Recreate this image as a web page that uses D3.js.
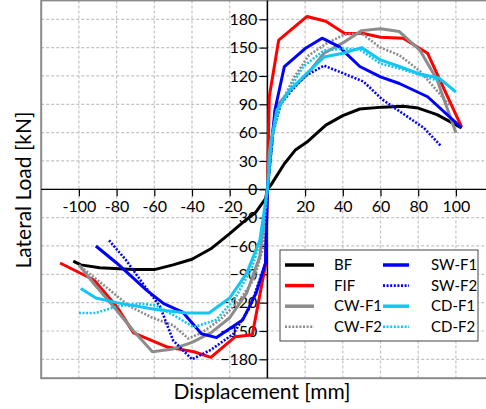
<!DOCTYPE html>
<html>
<head>
<meta charset="utf-8">
<script src="https://cdn.jsdelivr.net/npm/d3@7"></script>
<style>
  body { margin: 0; background: #fff; }
  svg { font-family: Lato, "Liberation Sans", sans-serif; }
</style>
</head>
<body>
<div id="chart"></div>
<script>
// displacement [mm] / lateral load [kN]
const bf = [[-103,-76],[-99,-80],[-89,-83],[-71,-85],[-60,-85],[-50,-80],[-40,-74],[-30,-63],[-20,-47],[-13,-35],[-6,-24],[-1,-10],[0,0],
  [2,5],[9,27],[15,42],[21,50],[31,68],[40,78],[49,85],[61,87],[72,88],[80,86],[90,79],[103,65]];
const fif = [[-110,-78],[-92,-96],[-80,-124],[-71,-152],[-53,-167],[-39,-172],[-30,-178],[-17,-156],[-8,-154],[-1,-80],[0,0],
  [1,98],[6,158],[21,183],[31,178],[41,165],[51,165],[60,161],[72,160],[85,144],[103,66]];
const cwF1 = [[-100,-80],[-92,-100],[-80,-128],[-71,-150],[-61,-172],[-50,-169],[-40,-162],[-30,-152],[-20,-136],[-11,-110],[-4,-71],[0,0],
  [1,40],[5,88],[12,105],[20,119],[30,144],[40,155],[50,168],[60,170],[70,167],[81,147],[90,116],[100,60]];
const cwF2 = [[-99,-82],[-89,-98],[-73,-124],[-61,-136],[-50,-144],[-42,-158],[-35,-152],[-25,-138],[-15,-118],[-7,-95],[-2,-60],[0,0],
  [3,60],[7,90],[14,118],[22,142],[31,154],[41,164],[50,165],[60,150],[70,142],[81,125],[91,102],[97,88]];
const swF1 = [[-91,-60],[-80,-78],[-64,-107],[-55,-121],[-45,-130],[-35,-153],[-27,-157],[-13,-138],[-6,-110],[-1,-78],[0,0],
  [4,84],[9,130],[20,149],[29,160],[38,151],[49,130],[60,119],[70,112],[85,98],[103,65]];
const swF2 = [[-84,-54],[-75,-75],[-66,-100],[-57,-124],[-50,-160],[-40,-180],[-30,-170],[-18,-153],[-9,-124],[-1,-78],[0,0],
  [3,60],[7,90],[13,105],[20,120],[30,131],[40,123],[51,114],[61,95],[72,80],[83,65],[92,46]];
const cdF1 = [[-99,-105],[-91,-115],[-80,-120],[-60,-127],[-43,-131],[-31,-131],[-20,-115],[-11,-89],[-4,-54],[0,0],
  [2,50],[5,84],[12,105],[20,121],[30,140],[40,144],[50,150],[60,137],[70,130],[81,122],[91,118],[100,103]];
const cdF2 = [[-100,-131],[-91,-131],[-80,-124],[-68,-121],[-59,-123],[-50,-133],[-39,-146],[-27,-138],[-17,-115],[-8,-82],[-2,-43],[0,0],
  [3,60],[7,90],[13,110],[19,130],[30,147],[40,149],[49,148],[60,133],[70,128],[81,121],[92,114]];

const seriesNames = ["BF", "FIF", "CW-F1", "CW-F2", "SW-F1", "SW-F2", "CD-F1", "CD-F2"];
const seriesData = [bf, fif, cwF1, cwF2, swF1, swF2, cdF1, cdF2];
const seriesColors = ["#000000", "#ff0000", "#8c8c8c", "#8c8c8c", "#0000ff", "#0000ff", "#12c6f5", "#12c6f5"];
const seriesDotted = [false, false, false, true, false, true, false, true];

const xTicks = [-100, -80, -60, -40, -20, 0, 20, 40, 60, 80, 100, 120];
const yTicks = [-180, -150, -120, -90, -60, -30, 0, 30, 60, 90, 120, 150, 180];

const width = 486, height = 409;
const x = d3.scaleLinear().domain([-120, 120]).range([41.2, 493.6]);
const y = d3.scaleLinear().domain([-200, 200]).range([378.2, 0.4]);

const svg = d3.select("#chart").append("svg")
  .attr("width", width)
  .attr("height", height);

// grid
svg.append("g").selectAll("line")
  .data(xTicks)
  .enter().append("line")
  .attr("x1", d => x(d)).attr("x2", d => x(d))
  .attr("y1", y(200)).attr("y2", y(-200))
  .attr("stroke", "#c4c4c4").attr("stroke-width", 1.2)
  .attr("stroke-dasharray", "3,2");
svg.append("g").selectAll("line")
  .data(yTicks)
  .enter().append("line")
  .attr("x1", x(-120)).attr("x2", x(120))
  .attr("y1", d => y(d)).attr("y2", d => y(d))
  .attr("stroke", "#c4c4c4").attr("stroke-width", 1.2)
  .attr("stroke-dasharray", "3,2");

// frame
svg.append("rect")
  .attr("x", x(-120)).attr("y", y(200))
  .attr("width", x(120) - x(-120)).attr("height", y(-200) - y(200))
  .attr("fill", "none").attr("stroke", "#8a8a8a").attr("stroke-width", 2);

// axes through the origin
const xAxis = svg.append("g")
  .attr("transform", `translate(0,${y(0)})`)
  .call(d3.axisBottom(x).tickValues(xTicks.filter(d => d <= 100)).tickSize(7).tickSizeOuter(0)
    .tickFormat(d => d === 0 ? "" : d));
xAxis.selectAll("text").attr("y", 11).attr("dy", "0.71em")
  .style("font-size", "16px").style("font-family", "Lato, sans-serif").attr("fill", "#000");

const yAxis = svg.append("g")
  .attr("transform", `translate(${x(0)},0)`)
  .call(d3.axisLeft(y).tickValues(yTicks).tickSize(8).tickSizeOuter(0));
yAxis.selectAll("text").attr("x", -10)
  .style("font-size", "16px").style("font-family", "Lato, sans-serif").attr("fill", "#000");

svg.selectAll(".domain").remove();
svg.append("line")
  .attr("x1", x(-120)).attr("x2", x(120)).attr("y1", y(0)).attr("y2", y(0))
  .attr("stroke", "#000").attr("stroke-width", 1.2);
svg.append("line")
  .attr("x1", x(0)).attr("x2", x(0)).attr("y1", y(200)).attr("y2", y(-200))
  .attr("stroke", "#000").attr("stroke-width", 1.5);
svg.selectAll(".tick line").attr("stroke", "#000").attr("stroke-width", 1.2);

// curves
const line = d3.line().x(d => x(d[0])).y(d => y(d[1]));
svg.append("g").selectAll("path")
  .data(seriesData)
  .enter().append("path")
  .attr("d", line)
  .attr("fill", "none")
  .attr("stroke", (d, i) => seriesColors[i])
  .attr("stroke-width", (d, i) => seriesDotted[i] ? 2.6 : 3)
  .attr("stroke-dasharray", (d, i) => seriesDotted[i] ? "2,1.6" : null)
  .attr("stroke-linejoin", "round");

// legend
const legend = svg.append("g");
legend.append("rect")
  .attr("x", 280).attr("y", 250).attr("width", 198).attr("height", 91)
  .attr("fill", "#fff").attr("stroke", "#444").attr("stroke-width", 1);
const legendItems = legend.selectAll("g")
  .data(seriesNames)
  .enter().append("g")
  .attr("transform", (d, i) => `translate(${i < 4 ? 285 : 383},${265 + (i % 4) * 20.6})`);
legendItems.append("line")
  .attr("x1", 0).attr("x2", (d, i) => i < 4 ? 29 : 26)
  .attr("stroke", (d, i) => seriesColors[i])
  .attr("stroke-width", (d, i) => seriesDotted[i] ? 2.6 : 3.5)
  .attr("stroke-dasharray", (d, i) => seriesDotted[i] ? "2,1.6" : null);
legendItems.append("text")
  .attr("x", (d, i) => i < 4 ? 49 : 48)
  .attr("dy", "0.35em")
  .style("font-size", "15px")
  .text(d => d);

// axis titles
svg.append("text")
  .attr("x", 262).attr("y", 399)
  .attr("text-anchor", "middle")
  .style("font-size", "21px")
  .text("Displacement [mm]");
svg.append("text")
  .attr("transform", "translate(31,190) rotate(-90)")
  .attr("text-anchor", "middle")
  .style("font-size", "21px")
  .text("Lateral Load [kN]");
</script>
</body>
</html>
